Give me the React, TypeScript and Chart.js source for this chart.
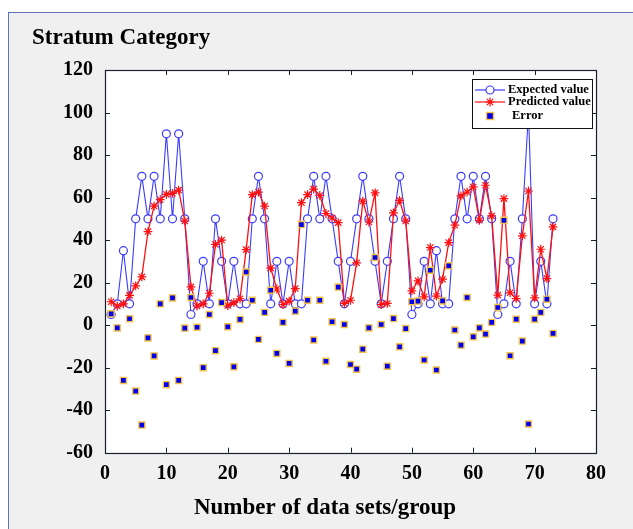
import React, { useEffect, useRef } from "react";
import { Chart, registerables } from "chart.js";

Chart.register(...registerables);

const expectedValues = [
  5, 10, 35, 10, 50, 70, 50, 70, 50, 90, 50, 90, 50, 5, 10, 30, 10, 50, 30, 10,
  30, 10, 10, 50, 70, 50, 10, 30, 10, 30, 10, 10, 50, 70, 50, 70, 50, 30, 10, 30,
  50, 70, 50, 30, 10, 30, 50, 70, 50, 5, 10, 30, 10, 35, 10, 10, 50, 70, 50,
  70, 50, 70, 50, 5, 10, 30, 10, 50, 100, 10, 30, 10, 50,
];

const predictedValues = [
  11, 9, 10, 14, 18.5, 22.7, 44, 56, 59, 61.5, 62, 63.5, 49, 18, 9, 10, 15, 38, 40, 9.2,
  10.6, 12.4, 35.5, 61.4, 62.6, 56, 26.8, 17, 9.7, 11.3, 17.2, 57.6, 61.4, 64, 61, 52.5, 50.4, 48.2, 10.2, 11.7,
  29.3, 58.3, 48.5, 62.2, 9.7, 10.2, 52.8, 58.7, 49, 16.1, 20.8, 13.3, 36.5, 13.6, 21.6, 38.8, 47, 60.8, 62.6,
  65, 49.3, 65.8, 51.4, 14.1, 59.5, 15.2, 12.5, 42, 63.1, 12.8, 35.7, 21.9, 46.2,
];

const errorValues = [
  5.3, -1.3, -26, 3, -31, -47, -6, -14.5, 10, -28, 12.8, -26, -1.4, 13, -1, -20, 5, -12, 10.6, -0.8,
  -19.6, 2.7, 25, 11.7, -6.7, 6, 16.4, -13.3, 1.3, -18, 6.6, 47.3, 11.7, -7, 11.7, -17, 1.6, 17.9, 0.3, -18.5,
  -20.7, -11.3, -1.3, 31.8, 0.3, -19.3, 3.1, -10.2, -1.6, 11, 11.3, -16.4, 25.8, -21.1, 11.4, 27.9, -2.3, -9.4, 13,
  -5.5, -1.3, -4.2, 1.3, 8.3, 49.3, -14.4, 2.8, -7.5, -46.5, 2.8, 6, 12.2, -3.9,
];

const xTicks = [0, 10, 20, 30, 40, 50, 60, 70, 80];
const yTicks = [-60, -40, -20, 0, 20, 40, 60, 80, 100, 120];
const legendLabels = ["Expected value", "Predicted value", "Error"];
const chartTitle = "Stratum Category";
const xTitle = "Number of data sets/group";

const SERIF = '"Times New Roman", "Liberation Serif", serif';
const BLUE = "#3b3bff";
const RED = "#ff1010";
const SQ_FILL = "#0000ee";
const SQ_BORDER = "#f5c24a";

const toPoints = (arr: number[]) => arr.map((v, i) => ({ x: i + 1, y: v }));

const decorPlugin = {
  id: "decor",
  beforeDraw(chart: any) {
    const { ctx, chartArea: a } = chart;
    ctx.save();
    ctx.fillStyle = "#ffffff";
    ctx.fillRect(a.left, a.top, a.right - a.left, a.bottom - a.top);
    ctx.restore();
  },
  afterDraw(chart: any) {
    const { ctx, chartArea: a } = chart;
    const xs = chart.scales.x;
    const ys = chart.scales.y;
    ctx.save();
    // frame
    ctx.strokeStyle = "#1a1f2e";
    ctx.lineWidth = 1.2;
    ctx.strokeRect(Math.round(a.left) + 0.5, Math.round(a.top) + 0.5, Math.round(a.right - a.left), Math.round(a.bottom - a.top));
    // inward ticks
    const tl = 5;
    ctx.lineWidth = 1;
    ctx.beginPath();
    xTicks.forEach((t) => {
      if (t === xTicks[0] || t === xTicks[xTicks.length - 1]) return;
      const px = Math.round(xs.getPixelForValue(t)) + 0.5;
      ctx.moveTo(px, a.bottom);
      ctx.lineTo(px, a.bottom - tl);
      ctx.moveTo(px, a.top);
      ctx.lineTo(px, a.top + tl);
    });
    yTicks.forEach((t) => {
      if (t === yTicks[0] || t === yTicks[yTicks.length - 1]) return;
      const py = Math.round(ys.getPixelForValue(t)) + 0.5;
      ctx.moveTo(a.left, py);
      ctx.lineTo(a.left + tl, py);
      ctx.moveTo(a.right, py);
      ctx.lineTo(a.right - tl, py);
    });
    ctx.stroke();

    // titles
    ctx.fillStyle = "#000";
    ctx.textBaseline = "alphabetic";
    ctx.textAlign = "left";
    ctx.font = `bold 23px ${SERIF}`;
    ctx.fillText(chartTitle, 32, 44);
    ctx.textAlign = "center";
    ctx.font = `bold 23px ${SERIF}`;
    ctx.fillText(xTitle, 325, 514);

    // legend
    const lx = 472.5, ly = 79.5, lw = 120, lh = 49;
    ctx.fillStyle = "#fff";
    ctx.fillRect(lx, ly, lw, lh);
    ctx.strokeStyle = "#111";
    ctx.lineWidth = 1;
    ctx.strokeRect(lx, ly, lw, lh);
    const rows = [90, 102, 116];
    // expected
    ctx.strokeStyle = BLUE;
    ctx.lineWidth = 1.2;
    ctx.beginPath();
    ctx.moveTo(475, rows[0]);
    ctx.lineTo(505, rows[0]);
    ctx.stroke();
    ctx.beginPath();
    ctx.arc(490, rows[0], 4, 0, Math.PI * 2);
    ctx.fillStyle = "#fff";
    ctx.fill();
    ctx.stroke();
    // predicted
    ctx.strokeStyle = RED;
    ctx.beginPath();
    ctx.moveTo(475, rows[1]);
    ctx.lineTo(505, rows[1]);
    ctx.stroke();
    ctx.beginPath();
    for (let k = 0; k < 4; k++) {
      const ang = (k * Math.PI) / 4;
      const r = 4.4;
      ctx.moveTo(490 - r * Math.cos(ang), rows[1] - r * Math.sin(ang));
      ctx.lineTo(490 + r * Math.cos(ang), rows[1] + r * Math.sin(ang));
    }
    ctx.stroke();
    // error
    ctx.fillStyle = SQ_FILL;
    ctx.strokeStyle = SQ_BORDER;
    ctx.lineWidth = 1.4;
    ctx.fillRect(486.5, rows[2] - 3.5, 7, 7);
    ctx.strokeRect(486.5, rows[2] - 3.5, 7, 7);

    ctx.fillStyle = "#000";
    ctx.textAlign = "left";
    ctx.textBaseline = "middle";
    ctx.font = `bold 12.5px ${SERIF}`;
    ctx.fillText(legendLabels[0], 508, rows[0]);
    ctx.fillText(legendLabels[1], 508, rows[1]);
    ctx.fillText(legendLabels[2], 512, rows[2]);
    ctx.restore();
  },
};

export default function App() {
  const ref = useRef<HTMLCanvasElement | null>(null);

  useEffect(() => {
    if (!ref.current) return;
    const chart = new Chart(ref.current, {
      type: "line",
      data: {
        datasets: [
          {
            label: legendLabels[0],
            data: toPoints(expectedValues),
            borderColor: BLUE,
            backgroundColor: "#ffffff",
            borderWidth: 1.1,
            pointStyle: "circle",
            pointRadius: 4,
            pointBorderWidth: 1.2,
            pointBackgroundColor: "#ffffff",
            pointBorderColor: BLUE,
            tension: 0,
            order: 2,
          },
          {
            label: legendLabels[1],
            data: toPoints(predictedValues),
            borderColor: RED,
            backgroundColor: RED,
            borderWidth: 1.3,
            pointStyle: "star",
            pointRadius: 4.4,
            pointBorderWidth: 1.2,
            pointBorderColor: RED,
            tension: 0,
            order: 1,
          },
          {
            label: legendLabels[2],
            data: toPoints(errorValues),
            showLine: false,
            pointStyle: "rect",
            pointRadius: 4.3,
            pointBorderWidth: 1.4,
            pointBackgroundColor: SQ_FILL,
            pointBorderColor: SQ_BORDER,
            borderColor: SQ_BORDER,
            backgroundColor: SQ_FILL,
            order: 0,
          },
        ],
      },
      options: {
        animation: false,
        responsive: false,
        maintainAspectRatio: false,
        layout: { padding: { left: 0, top: 70, right: 37, bottom: 0 } },
        plugins: {
          legend: { display: false },
          title: { display: false },
          tooltip: { enabled: false },
        },
        scales: {
          x: {
            type: "linear",
            min: 0,
            max: 80,
            afterBuildTicks: (s: any) => {
              s.ticks = xTicks.map((v) => ({ value: v }));
            },
            ticks: {
              color: "#000",
              font: { family: SERIF, size: 20, weight: "bold" },
              padding: 9,
              maxRotation: 0,
              autoSkip: false,
            },
            grid: { display: false, drawTicks: false },
            border: { display: false },
            afterFit: (s: any) => {
              s.height = 76.3;
            },
          },
          y: {
            type: "linear",
            min: -60,
            max: 120,
            afterBuildTicks: (s: any) => {
              s.ticks = yTicks.map((v) => ({ value: v }));
            },
            ticks: {
              color: "#000",
              font: { family: SERIF, size: 20, weight: "bold" },
              padding: 12,
              autoSkip: false,
            },
            grid: { display: false, drawTicks: false },
            border: { display: false },
            afterFit: (s: any) => {
              s.width = 105;
            },
          },
        },
      },
      plugins: [decorPlugin],
    } as any);
    return () => chart.destroy();
  }, []);

  return (
    <div style={{ position: "absolute", left: 0, top: 0, width: 633, height: 529, background: "#fff", overflow: "hidden" }}>
      <div
        style={{
          position: "absolute",
          left: 8,
          top: 12,
          width: 640,
          height: 540,
          background: "#f0f0f0",
          borderTop: "1px solid #5a78b8",
          borderLeft: "1px solid #5a78b8",
        }}
      />
      <canvas ref={ref} width={633} height={529} style={{ position: "absolute", left: 0, top: 0, width: 633, height: 529 }} />
    </div>
  );
}
